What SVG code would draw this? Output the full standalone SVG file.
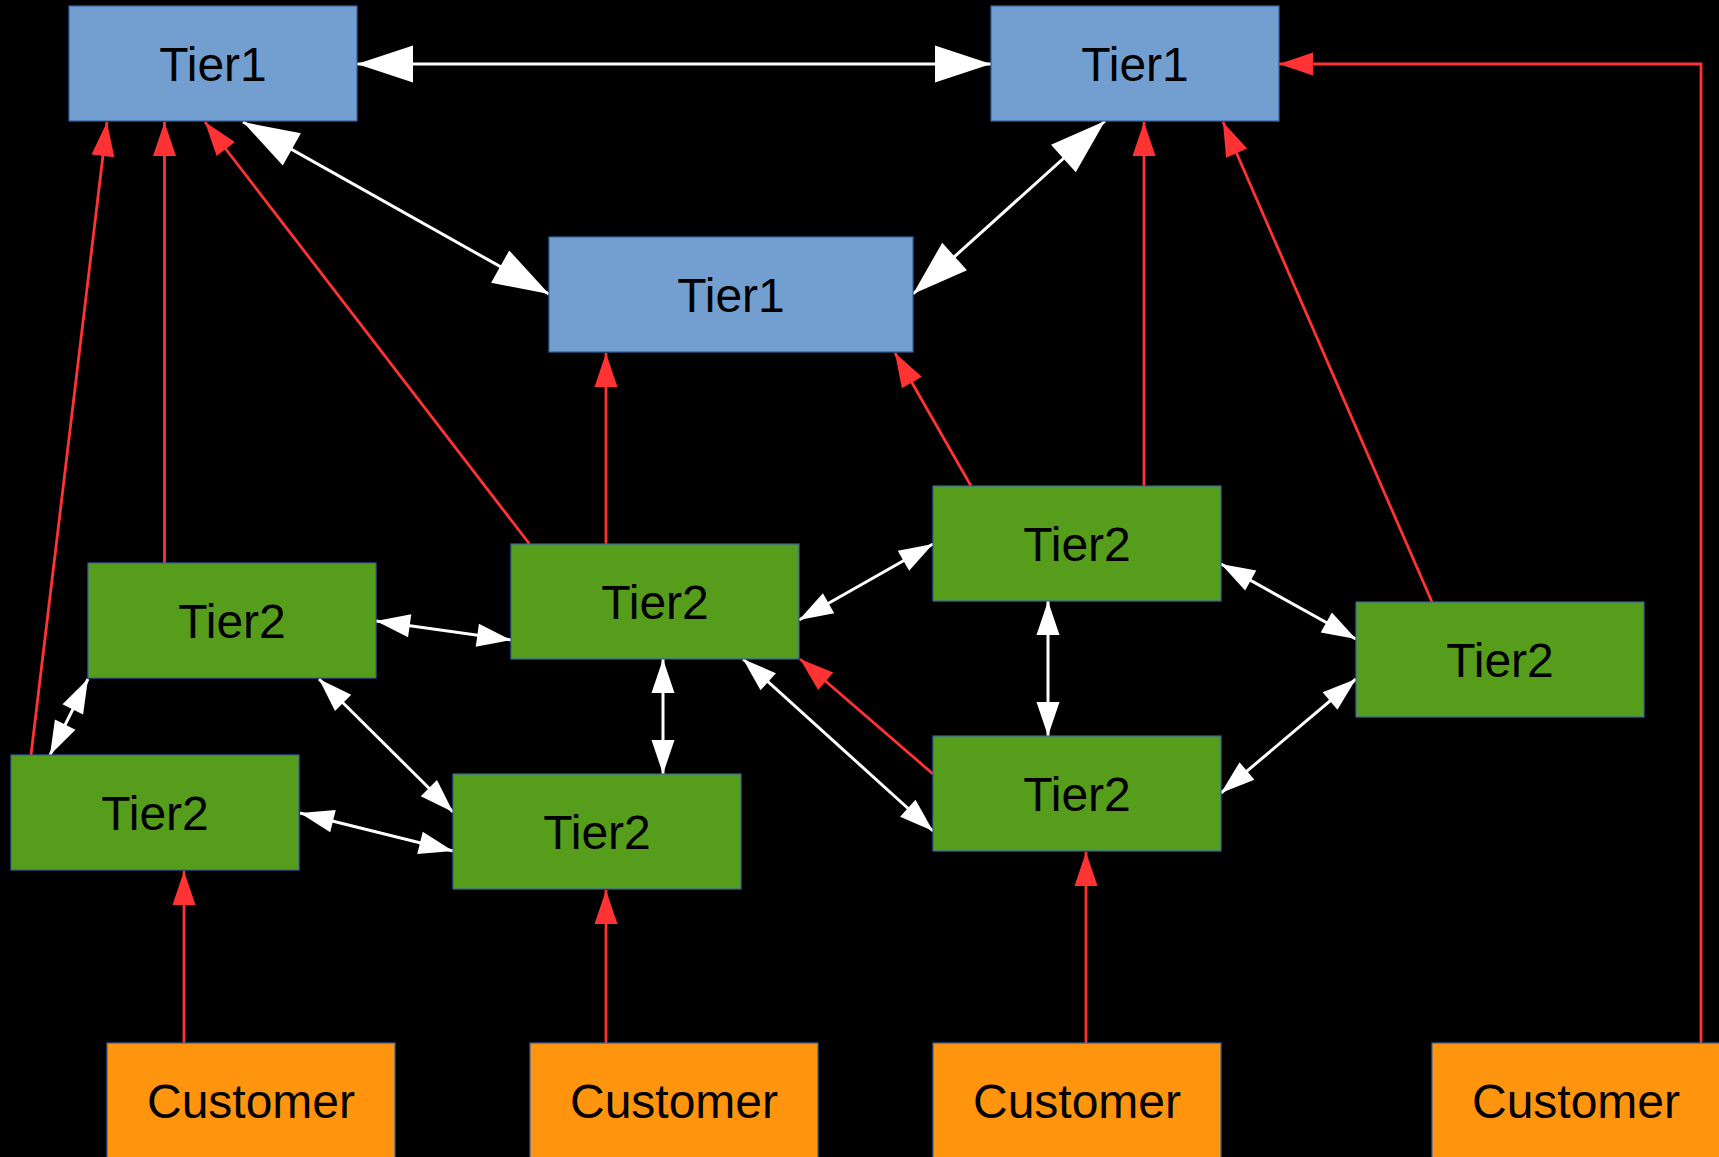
<svg xmlns="http://www.w3.org/2000/svg" width="1719" height="1157" viewBox="0 0 1719 1157">
<style>
.t1{fill:#729fcf;stroke:#3465a4;stroke-width:1.2}
.t2{fill:#579d1c;stroke:#3465a4;stroke-width:1.2}
.cu{fill:#ff950e;stroke:#3465a4;stroke-width:1.2}
text{font-family:"Liberation Sans",Arial,sans-serif;font-size:48px;fill:#000;text-anchor:middle}
.wb{stroke:#fff;stroke-width:3;fill:none;marker-start:url(#bigW);marker-end:url(#bigW)}
.ws{stroke:#fff;stroke-width:3;fill:none;marker-start:url(#smW);marker-end:url(#smW)}
.r{stroke:#ff3333;stroke-width:2.8;fill:none;marker-end:url(#smR)}
</style>
<defs>
<marker id="bigW" markerUnits="userSpaceOnUse" markerWidth="56" markerHeight="37" refX="56" refY="18.5" orient="auto-start-reverse" overflow="visible"><path d="M0,0 L56,18.5 L0,37 Z" fill="#fff"/></marker>
<marker id="smW" markerUnits="userSpaceOnUse" markerWidth="34" markerHeight="23" refX="34" refY="11.5" orient="auto-start-reverse" overflow="visible"><path d="M0,0 L34,11.5 L0,23 Z" fill="#fff"/></marker>
<marker id="smR" markerUnits="userSpaceOnUse" markerWidth="34" markerHeight="23" refX="34" refY="11.5" orient="auto" overflow="visible"><path d="M0,0 L34,11.5 L0,23 Z" fill="#ff3333"/></marker>
</defs>
<rect width="1719" height="1157" fill="#000"/>
<g id="connectors">
<path class="wb" d="M357,64 L991,64"/>
<path class="wb" d="M243,122 L549,294"/>
<path class="wb" d="M1105,121 L913,294"/>
<path class="ws" d="M376,621 L511,640"/>
<path class="ws" d="M88,679 L50,755"/>
<path class="ws" d="M319,679 L453,812"/>
<path class="ws" d="M300,813 L453,851"/>
<path class="ws" d="M663,659 L663,774"/>
<path class="ws" d="M799,620 L933,544"/>
<path class="ws" d="M743,659 L933,831"/>
<path class="ws" d="M1048,601 L1048,736"/>
<path class="ws" d="M1221,564 L1356,639"/>
<path class="ws" d="M1221,793 L1356,679"/>
<path class="r" d="M164.5,563 L164.5,122"/>
<path class="r" d="M31,755 L107,122"/>
<path class="r" d="M529.5,544 L205,122"/>
<path class="r" d="M606,544 L606,353"/>
<path class="r" d="M971,486 L895,353"/>
<path class="r" d="M1144,486 L1144,122"/>
<path class="r" d="M1432,602 L1223,122"/>
<path class="r" d="M933,774 L800,659"/>
<path class="r" d="M184,1043 L184,871"/>
<path class="r" d="M606,1043 L606,890"/>
<path class="r" d="M1086,1043 L1086,852"/>
<path class="r" d="M1701,1043 L1701,64 L1279,64"/>
</g>
<g id="tier1-a"><rect class="t1" x="69" y="6" width="288" height="115"/><text x="213" y="81">Tier1</text></g>
<g id="tier1-b"><rect class="t1" x="991" y="6" width="288" height="115"/><text x="1135" y="81">Tier1</text></g>
<g id="tier1-c"><rect class="t1" x="549" y="237" width="364" height="115"/><text x="731" y="312">Tier1</text></g>
<g id="tier2-a"><rect class="t2" x="88" y="563" width="288" height="115"/><text x="232" y="638">Tier2</text></g>
<g id="tier2-b"><rect class="t2" x="11" y="755" width="288" height="115"/><text x="155" y="830">Tier2</text></g>
<g id="tier2-c"><rect class="t2" x="511" y="544" width="288" height="115"/><text x="655" y="619">Tier2</text></g>
<g id="tier2-d"><rect class="t2" x="453" y="774" width="288" height="115"/><text x="597" y="849">Tier2</text></g>
<g id="tier2-e"><rect class="t2" x="933" y="486" width="288" height="115"/><text x="1077" y="561">Tier2</text></g>
<g id="tier2-f"><rect class="t2" x="933" y="736" width="288" height="115"/><text x="1077" y="811">Tier2</text></g>
<g id="tier2-g"><rect class="t2" x="1356" y="602" width="288" height="115"/><text x="1500" y="677">Tier2</text></g>
<g id="customer-1"><rect class="cu" x="107" y="1043" width="288" height="116"/><text x="251" y="1118">Customer</text></g>
<g id="customer-2"><rect class="cu" x="530" y="1043" width="288" height="116"/><text x="674" y="1118">Customer</text></g>
<g id="customer-3"><rect class="cu" x="933" y="1043" width="288" height="116"/><text x="1077" y="1118">Customer</text></g>
<g id="customer-4"><rect class="cu" x="1432" y="1043" width="288" height="116"/><text x="1576" y="1118">Customer</text></g>
</svg>
